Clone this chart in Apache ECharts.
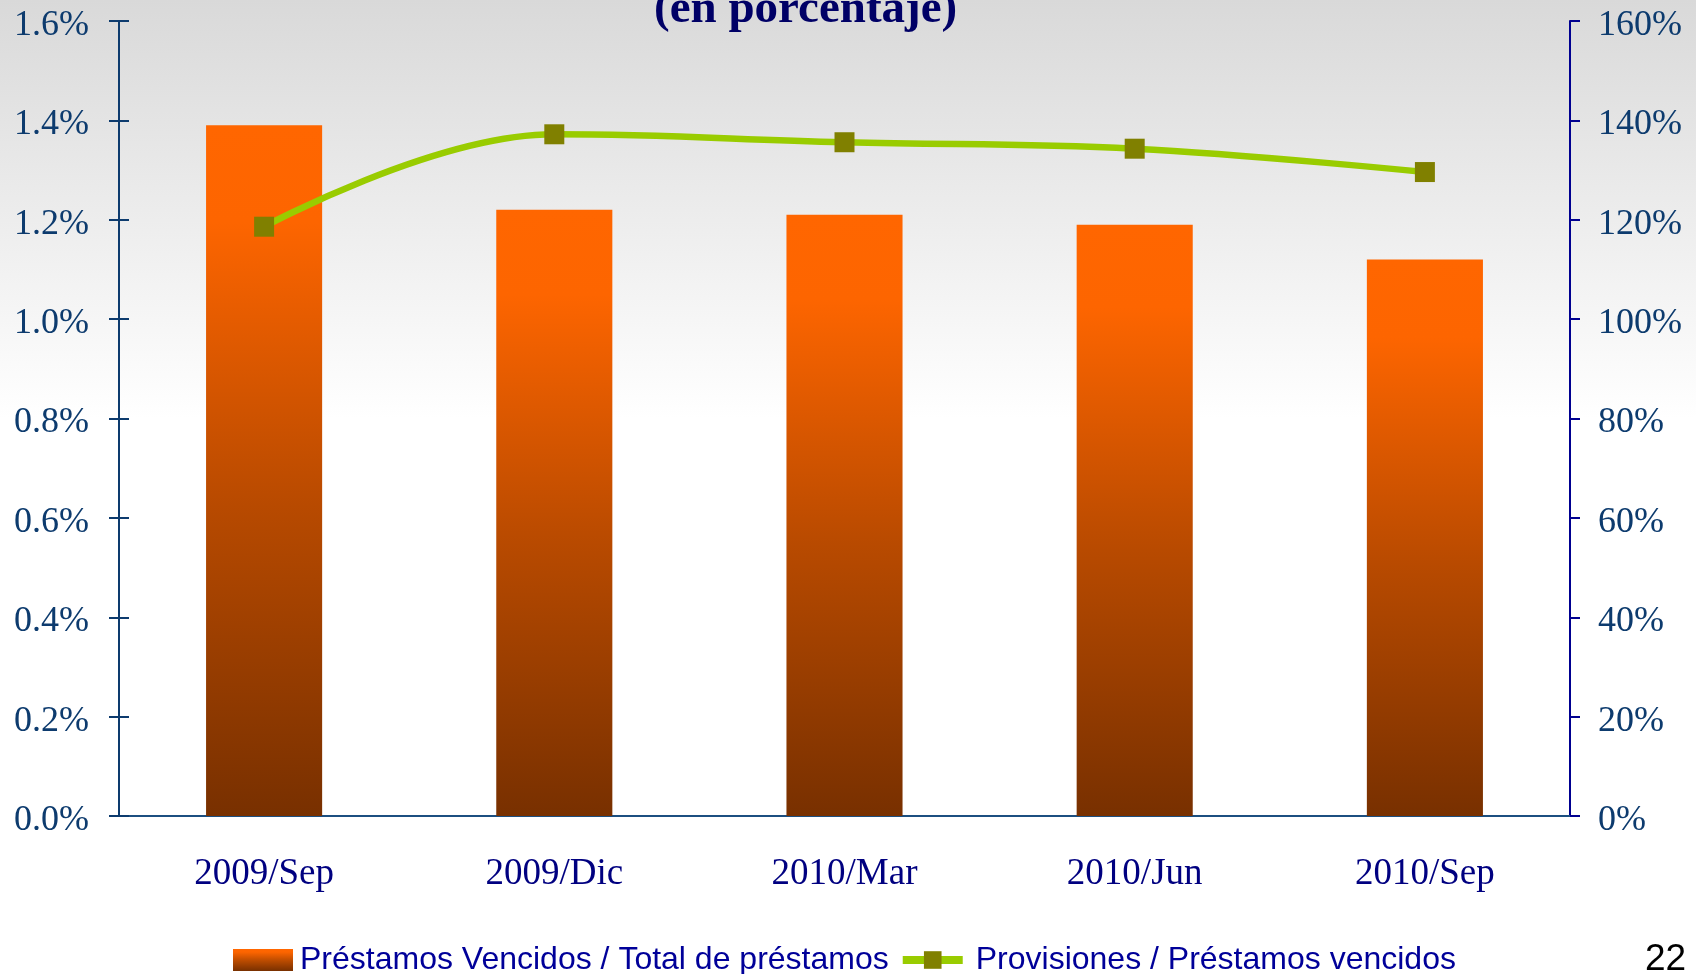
<!DOCTYPE html>
<html>
<head>
<meta charset="utf-8">
<title>Préstamos vencidos y provisiones</title>
<script src="https://cdn.jsdelivr.net/npm/echarts@6/dist/echarts.min.js"></script>
<style>
  html, body { margin: 0; padding: 0; }
  #chart { width: 1696px; height: 974px; }
</style>
</head>
<body>
<div id="chart"></div>
<script>
// categorías del eje x
const categories = ["2009/Sep", "2009/Dic", "2010/Mar", "2010/Jun", "2010/Sep"];
// Préstamos Vencidos / Total de préstamos (%)
const vencidosRatio = [1.39, 1.22, 1.21, 1.19, 1.12];
// Provisiones / Préstamos vencidos (%)
const provisionesRatio = [118.6, 137.2, 135.6, 134.3, 129.6];
// nombres de las series
const seriesNames = ["Préstamos Vencidos / Total de préstamos", "Provisiones / Préstamos vencidos"];

const serif = "'Liberation Serif', 'Times New Roman', serif";
const sans = "'Liberation Sans', Arial, sans-serif";

const myChart = echarts.init(document.getElementById("chart"));

const option = {
  animation: false,
  // fondo gris degradado hacia blanco
  backgroundColor: {
    type: "linear",
    x: 0, y: 0, x2: 0, y2: 1,
    colorStops: [
      { offset: 0, color: "#d9d9d9" },
      { offset: 0.43, color: "#ffffff" },
      { offset: 1, color: "#ffffff" },
    ],
  },
  grid: {
    left: 119,
    right: 126,
    top: 21,
    bottom: 158,
    outerBoundsMode: "none",
  },
  legend: {
    top: 939,
    left: 228,
    itemWidth: 60,
    itemHeight: 22,
    itemGap: 10,
    textStyle: { fontFamily: sans, fontSize: 32, color: "#000099", padding: [0, 0, 0, 2] },
    data: [
      { name: seriesNames[0], icon: "rect" },
      {
        name: seriesNames[1],
        lineStyle: { width: 8 },
        textStyle: { fontFamily: sans, fontSize: 32, color: "#000099", padding: [0, 0, 0, 8] },
      },
    ],
  },
  graphic: [
    // subtítulo cortado en la parte superior
    {
      type: "text",
      left: 654,
      top: -14,
      style: {
        text: "(en porcentaje)",
        font: "bold 47px " + serif,
        fill: "#000066",
      },
    },
    // número de página
    {
      type: "text",
      left: 1645,
      top: 941,
      style: {
        text: "22",
        font: "37px " + sans,
        fill: "#000000",
      },
    },
  ],
  xAxis: [
    {
      type: "category",
      position: "bottom",
      data: categories,
      axisLine: { lineStyle: { color: "#1c4f80", width: 2 } },
      axisTick: { length: 11, lineStyle: { color: "#1c4f80", width: 2 } },
      axisLabel: { margin: 40, fontFamily: serif, fontSize: 37, color: "#000080" },
    },
    // copia para que las marcas crucen el eje
    {
      type: "category",
      position: "bottom",
      data: categories,
      axisLine: { show: false },
      axisTick: { inside: true, length: 11, lineStyle: { color: "#1c4f80", width: 2 } },
      axisLabel: { show: false },
    },
  ],
  yAxis: [
    {
      type: "value",
      position: "left",
      min: 0,
      max: 1.6,
      interval: 0.2,
      splitLine: { show: false },
      axisLine: { show: true, lineStyle: { color: "#0d3b6e", width: 2 } },
      axisTick: { show: true, length: 10, lineStyle: { color: "#0d3b6e", width: 2 } },
      axisLabel: {
        margin: 30,
        fontFamily: serif,
        fontSize: 36,
        color: "#0d3b6e",
        verticalAlign: "top",
        lineHeight: 9,
        formatter: (v) => v.toFixed(1) + "%",
      },
    },
    {
      type: "value",
      position: "right",
      min: 0,
      max: 160,
      interval: 20,
      splitLine: { show: false },
      axisLine: { show: true, lineStyle: { color: "#000090", width: 2 } },
      axisTick: { show: true, length: 10, lineStyle: { color: "#000090", width: 2 } },
      axisLabel: {
        margin: 28,
        fontFamily: serif,
        fontSize: 36,
        color: "#0d3b6e",
        verticalAlign: "top",
        lineHeight: 9,
        formatter: (v) => v + "%",
      },
    },
    // copia del eje izquierdo con marcas hacia dentro
    {
      type: "value",
      position: "left",
      min: 0,
      max: 1.6,
      interval: 0.2,
      splitLine: { show: false },
      axisLine: { show: false },
      axisTick: { show: true, inside: true, length: 10, lineStyle: { color: "#0d3b6e", width: 2 } },
      axisLabel: { show: false },
    },
  ],
  series: [
    {
      name: seriesNames[0],
      type: "bar",
      yAxisIndex: 0,
      barWidth: "40%",
      data: vencidosRatio,
      itemStyle: {
        color: {
          type: "linear",
          x: 0, y: 0, x2: 0, y2: 1,
          colorStops: [
            { offset: 0, color: "#ff6600" },
            { offset: 0.14, color: "#fd6500" },
            { offset: 0.55, color: "#b84a00" },
            { offset: 1, color: "#783000" },
          ],
        },
      },
    },
    {
      name: seriesNames[1],
      type: "line",
      yAxisIndex: 1,
      smooth: 0.4,
      data: provisionesRatio,
      symbol: "rect",
      symbolSize: 20,
      lineStyle: { color: "#99cc00", width: 6.5 },
      itemStyle: { color: "#808000" },
      z: 5,
    },
  ],
};

myChart.setOption(option);
</script>
</body>
</html>
